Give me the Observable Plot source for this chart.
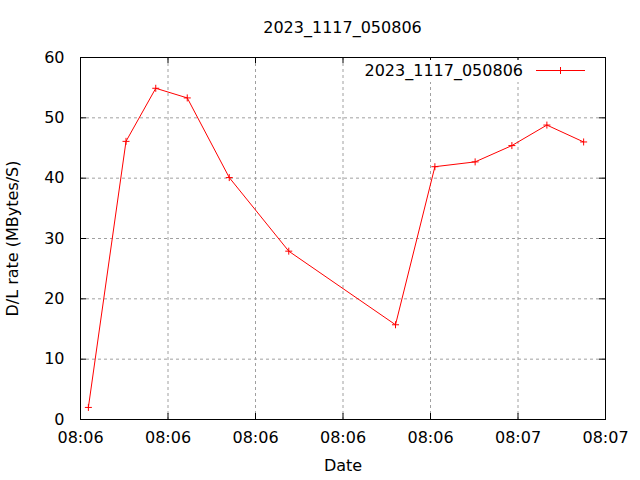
<!DOCTYPE html>
<html>
<head>
<meta charset="utf-8">
<script src="https://cdn.jsdelivr.net/npm/d3@7"></script>
<script src="https://cdn.jsdelivr.net/npm/@observablehq/plot@0.6"></script>
<style>
  html, body { margin: 0; padding: 0; background: #fff; }
  #wrap { position: relative; width: 640px; height: 480px; font-family: "DejaVu Sans", sans-serif; }
  #title { height: 42px; box-sizing: border-box; padding: 19px 35px 0 80px; text-align: center; font-size: 16px; color: #000; line-height: 17px; }
  #legend { position: absolute; top: 60px; left: 355px; width: 235px; height: 22px; background: #fff; font-size: 16px; }
  #legend span { position: absolute; right: 67px; top: 1px; }
  #legend svg { position: absolute; left: 180px; top: 0; }
</style>
</head>
<body>
<div id="wrap">
  <div id="title"></div>
  <div id="chart"></div>
  <div id="legend"><span id="legtext"></span><svg width="55" height="22"><line x1="1" y1="10.5" x2="50" y2="10.5" stroke="#ff0000" stroke-width="1"/><line x1="25.5" y1="7" x2="25.5" y2="14" stroke="#ff0000"/><line x1="22" y1="10.5" x2="29" y2="10.5" stroke="#ff0000"/></svg></div>
</div>
<script>
const titleText = "2023_1117_050806";
const seriesName = "2023_1117_050806";
const times = ["08:06:10.9","08:06:15.2","08:06:18.6","08:06:22.2","08:06:27.0","08:06:33.8","08:06:46.0","08:06:50.5","08:06:55.1","08:06:59.3","08:07:03.3","08:07:07.5"];
const rates = [2.0, 46.1, 54.9, 53.3, 40.1, 27.9, 15.7, 41.9, 42.7, 45.4, 48.8, 46.0];
const xTicks = ["08:06:10","08:06:20","08:06:30","08:06:40","08:06:50","08:07:00","08:07:10"];
const yTicks = [0, 10, 20, 30, 40, 50, 60];
const xLabel = "Date";
const yLabel = "D/L rate (MBytes/S)";

const parse = t => new Date(`2023-11-17T${t}Z`);
const data = times.map((t, i) => ({time: parse(t), rate: rates[i]}));
const xt = xTicks.map(parse);
const fmt = d3.utcFormat("%H:%M");

const plusSymbol = {
  draw(ctx, size) {
    const r = Math.sqrt(size / Math.PI);
    ctx.moveTo(-r, 0); ctx.lineTo(r, 0);
    ctx.moveTo(0, -r); ctx.lineTo(0, r);
  }
};

document.getElementById("title").textContent = titleText;
document.getElementById("legtext").textContent = seriesName;

const H = 438, mt = 15, mb = 61;
const fh = H - mt - mb;
const tl = 6;

const chart = Plot.plot({
  width: 640,
  height: H,
  marginTop: mt,
  marginBottom: mb,
  marginLeft: 80,
  marginRight: 35,
  style: {fontFamily: "DejaVu Sans, sans-serif", fontSize: "16px", color: "#000", background: "#fff"},
  x: {type: "utc", domain: [xt[0], xt[xt.length - 1]]},
  y: {domain: [0, 60]},
  marks: [
    Plot.gridX(xt, {stroke: "#a0a0a0", strokeOpacity: 1, strokeDasharray: "3,3"}),
    Plot.gridY(yTicks, {stroke: "#a0a0a0", strokeOpacity: 1, strokeDasharray: "3,3"}),
    Plot.tickX(xt, {x: d => d, insetTop: fh - tl, stroke: "#000"}),
    Plot.tickX(xt, {x: d => d, insetBottom: fh - tl, stroke: "#000"}),
    Plot.tickY(yTicks, {y: d => d, insetRight: 525 - tl, stroke: "#000"}),
    Plot.tickY(yTicks, {y: d => d, insetLeft: 525 - tl, stroke: "#000"}),
    Plot.axisX(xt, {tickSize: 0, tickPadding: 12, tickFormat: fmt, fontSize: 16, label: xLabel, labelAnchor: "center", labelArrow: "none", labelOffset: 51}),
    Plot.axisY(yTicks, {tickSize: 0, tickPadding: 16, fontSize: 16, label: yLabel, labelAnchor: "center", labelArrow: "none", labelOffset: 74}),
    Plot.line(data, {x: "time", y: "rate", stroke: "#ff0000", strokeWidth: 1}),
    Plot.dot(data, {x: "time", y: "rate", symbol: plusSymbol, r: 3.5, stroke: "#ff0000", fill: "none", strokeWidth: 1}),
    Plot.frame({stroke: "#000", strokeWidth: 1})
  ]
});
document.getElementById("chart").appendChild(chart);
</script>
</body>
</html>
